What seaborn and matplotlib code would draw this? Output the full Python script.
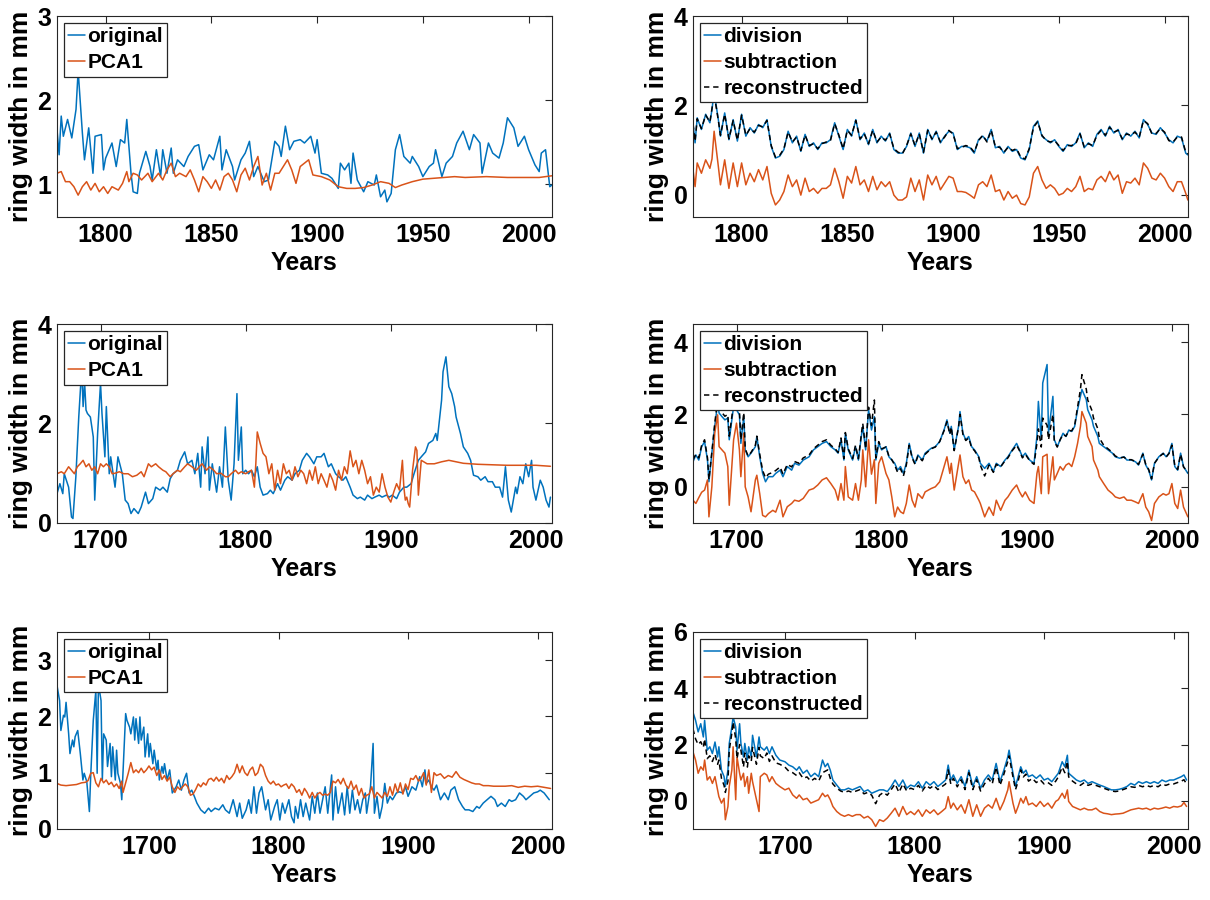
import matplotlib
matplotlib.use("Agg")
import matplotlib.pyplot as plt
import seaborn as sns
import pandas as pd

# ---------------- top row: 1777-2011 ----------------
TL_ORIG_YEARS = [1777, 1778, 1779, 1780, 1782, 1784, 1786, 1787, 1789, 1790,
                 1792, 1794, 1795, 1798, 1799, 1800, 1803, 1805, 1807, 1809,
                 1810, 1812, 1813, 1815, 1816, 1819, 1821, 1822, 1824, 1826,
                 1827, 1829, 1831, 1832, 1834, 1837, 1839, 1842, 1844, 1846,
                 1849, 1851, 1854, 1855, 1857, 1860, 1861, 1864, 1866, 1868,
                 1870, 1872, 1875, 1877, 1880, 1882, 1883, 1885, 1887, 1889,
                 1892, 1894, 1897, 1899, 1900, 1902, 1905, 1907, 1910, 1911,
                 1913, 1915, 1916, 1917, 1919, 1922, 1924, 1927, 1928, 1930,
                 1932, 1933, 1935, 1937, 1939, 1941, 1944, 1945, 1948, 1950,
                 1953, 1955, 1956, 1959, 1961, 1964, 1966, 1969, 1972, 1974,
                 1977, 1978, 1981, 1983, 1986, 1988, 1990, 1993, 1995, 1998,
                 2000, 2003, 2005, 2006, 2008, 2010, 2011]
TL_ORIG = [1.65, 1.35, 1.81, 1.57, 1.77, 1.55, 1.89, 2.35, 1.61, 1.29,
           1.67, 1.13, 1.57, 1.59, 1.17, 1.31, 1.49, 1.21, 1.53, 1.49,
           1.77, 1.13, 0.91, 0.89, 1.13, 1.39, 1.21, 1.05, 1.41, 1.09,
           1.41, 1.13, 1.43, 1.13, 1.29, 1.21, 1.33, 1.45, 1.47, 1.17,
           1.35, 1.29, 1.57, 1.17, 1.41, 1.21, 1.05, 1.29, 1.37, 1.51,
           1.09, 1.21, 1.03, 1.05, 1.51, 1.45, 1.33, 1.69, 1.41, 1.51,
           1.53, 1.49, 1.57, 1.37, 1.53, 1.13, 1.11, 1.07, 0.95, 1.25,
           1.17, 1.25, 1.01, 1.37, 1.05, 0.91, 1.03, 0.99, 1.11, 0.85,
           0.93, 0.79, 0.89, 1.41, 1.59, 1.33, 1.25, 1.33, 1.21, 1.09,
           1.21, 1.25, 1.41, 1.09, 1.25, 1.33, 1.49, 1.63, 1.41, 1.59,
           1.49, 1.13, 1.49, 1.37, 1.31, 1.49, 1.79, 1.67, 1.45, 1.57,
           1.41, 1.23, 1.15, 1.37, 1.41, 0.97, 0.99]

TL_PCA_YEARS = [1777, 1779, 1781, 1783, 1785, 1787, 1789, 1791, 1793, 1795,
                1797, 1799, 1801, 1803, 1806, 1808, 1810, 1811, 1813, 1815,
                1817, 1820, 1822, 1825, 1827, 1829, 1831, 1833, 1835, 1838,
                1840, 1842, 1844, 1846, 1848, 1850, 1852, 1854, 1856, 1858,
                1860, 1862, 1864, 1866, 1868, 1870, 1872, 1874, 1876, 1878,
                1880, 1882, 1884, 1886, 1888, 1890, 1892, 1894, 1896, 1898,
                1902, 1906, 1910, 1914, 1918, 1922, 1926, 1930, 1934, 1937,
                1940, 1945, 1950, 1955, 1960, 1965, 1970, 1980, 1990, 2000,
                2005, 2011]
TL_PCA = [1.13, 1.15, 1.03, 1.03, 0.97, 0.87, 0.97, 1.03, 0.93, 1.01,
          0.91, 0.97, 0.89, 0.97, 0.93, 1.01, 1.15, 1.03, 1.13, 1.11,
          1.05, 1.13, 1.03, 1.13, 1.05, 1.17, 1.25, 1.09, 1.13, 1.09,
          1.17, 1.05, 0.91, 1.09, 1.03, 0.95, 1.05, 0.93, 1.09, 1.13,
          1.05, 0.91, 1.11, 1.19, 1.05, 1.21, 1.33, 0.99, 1.13, 0.93,
          1.13, 1.13, 1.21, 1.29, 1.17, 1.01, 1.21, 1.25, 1.29, 1.11,
          1.09, 1.05, 0.97, 0.95, 0.95, 0.96, 0.99, 1.03, 1.01, 0.96,
          0.99, 1.03, 1.06, 1.07, 1.08, 1.09, 1.08, 1.09, 1.08, 1.08,
          1.08, 1.10]

TR_YEARS = [1777, 1778, 1779, 1781, 1783, 1785, 1786, 1787, 1789, 1790] + \
    list(range(1792, 2011, 2)) + [2011]
TR_DIV = [1.61, 1.16, 1.72, 1.46, 1.80, 1.61, 1.91, 2.30, 1.68, 1.31,
          1.83, 1.23, 1.68, 1.20, 1.80, 1.31, 1.50, 1.38, 1.57, 1.50,
          1.68, 1.08, 0.82, 0.86, 1.01, 1.42, 1.16, 1.31, 0.97, 1.35,
          1.08, 1.16, 1.01, 1.16, 1.16, 1.23, 1.61, 1.31, 1.01, 1.46,
          1.31, 1.68, 1.23, 1.38, 1.12, 1.46, 1.16, 1.31, 1.20, 1.38,
          1.01, 0.93, 0.93, 1.08, 1.38, 1.08, 1.38, 0.93, 1.46, 1.23,
          1.42, 1.16, 1.31, 1.42, 1.38, 1.01, 1.08, 1.08, 1.05, 0.93,
          1.23, 1.31, 1.20, 1.46, 1.05, 1.08, 0.93, 1.08, 0.97, 1.01,
          0.82, 0.78, 1.01, 1.53, 1.65, 1.31, 1.23, 1.16, 1.23, 1.08,
          0.97, 1.12, 1.08, 1.16, 1.38, 1.05, 1.16, 1.08, 1.35, 1.46,
          1.31, 1.53, 1.38, 1.46, 1.23, 1.38, 1.31, 1.42, 1.27, 1.68,
          1.57, 1.38, 1.35, 1.50, 1.38, 1.23, 1.16, 1.31, 1.27, 0.93,
          0.89]
TR_SUB = [0.56, 0.18, 0.71, 0.48, 0.78, 0.59, 0.80, 1.42, 0.63, 0.22,
          0.78, 0.14, 0.71, 0.18, 0.71, 0.22, 0.48, 0.29, 0.56, 0.33,
          0.63, 0.03, -0.23, -0.12, 0.07, 0.44, 0.18, 0.33, -0.01, 0.37,
          0.07, 0.14, 0.03, 0.14, 0.14, 0.22, 0.59, 0.29, -0.08, 0.41,
          0.26, 0.63, 0.22, 0.33, 0.07, 0.41, 0.11, 0.29, 0.18, 0.29,
          -0.01, -0.12, -0.12, -0.05, 0.37, 0.07, 0.33, -0.12, 0.44, 0.22,
          0.41, 0.11, 0.26, 0.41, 0.37, 0.07, 0.07, 0.05, -0.01, -0.08,
          0.22, 0.29, 0.18, 0.44, 0.07, 0.11, -0.12, 0.07, -0.08, -0.01,
          -0.20, -0.23, -0.05, 0.48, 0.63, 0.33, 0.14, 0.22, 0.14, -0.01,
          0.03, 0.14, 0.07, 0.18, 0.41, 0.07, 0.14, 0.11, 0.33, 0.41,
          0.29, 0.52, 0.33, 0.44, 0.03, 0.29, 0.26, 0.37, 0.22, 0.71,
          0.59, 0.37, 0.33, 0.48, 0.37, 0.18, 0.07, 0.29, 0.29, 0.03,
          -0.12]
TR_REC = [1.58, 1.20, 1.70, 1.48, 1.78, 1.63, 1.93, 2.25, 1.66, 1.33,
          1.80, 1.25, 1.66, 1.22, 1.78, 1.33, 1.48, 1.40, 1.55, 1.52,
          1.66, 1.10, 0.84, 0.88, 1.03, 1.40, 1.18, 1.29, 0.99, 1.33,
          1.10, 1.14, 1.03, 1.14, 1.18, 1.21, 1.59, 1.33, 1.03, 1.44,
          1.33, 1.66, 1.25, 1.36, 1.14, 1.44, 1.18, 1.29, 1.22, 1.36,
          1.03, 0.95, 0.91, 1.10, 1.36, 1.10, 1.36, 0.95, 1.44, 1.25,
          1.40, 1.18, 1.29, 1.44, 1.36, 1.03, 1.06, 1.10, 1.07, 0.95,
          1.21, 1.33, 1.18, 1.44, 1.07, 1.06, 0.95, 1.06, 0.99, 1.03,
          0.84, 0.80, 1.03, 1.51, 1.63, 1.33, 1.21, 1.18, 1.21, 1.10,
          0.99, 1.10, 1.10, 1.14, 1.36, 1.07, 1.14, 1.10, 1.33, 1.44,
          1.33, 1.51, 1.40, 1.44, 1.25, 1.36, 1.33, 1.40, 1.29, 1.66,
          1.59, 1.36, 1.37, 1.48, 1.40, 1.21, 1.18, 1.29, 1.29, 0.95,
          0.91]

# ---------------- middle row: 1670-2011 ----------------
ML_ORIG_YEARS = [1670, 1672, 1674, 1675, 1678, 1680, 1681, 1683, 1685, 1686,
                 1687, 1688, 1689, 1690, 1691, 1693, 1695, 1696, 1698, 1700,
                 1701, 1703, 1704, 1706, 1707, 1710, 1712, 1715, 1717, 1719,
                 1721, 1723, 1726, 1728, 1731, 1733, 1736, 1738, 1741, 1743,
                 1746, 1748, 1750, 1753, 1755, 1758, 1760, 1763, 1765, 1767,
                 1769, 1770, 1772, 1774, 1775, 1777, 1780, 1782, 1784, 1786,
                 1788, 1790, 1792, 1794, 1795, 1796, 1797, 1798, 1800, 1802,
                 1804, 1806, 1808, 1810, 1812, 1815, 1817, 1819, 1822, 1824,
                 1827, 1829, 1832, 1834, 1837, 1839, 1842, 1844, 1847, 1849,
                 1852, 1854, 1857, 1859, 1862, 1864, 1867, 1869, 1872, 1874,
                 1877, 1879, 1882, 1884, 1887, 1889, 1892, 1894, 1897, 1899,
                 1901, 1904, 1906, 1909, 1911, 1914, 1916, 1919, 1921, 1924,
                 1926, 1929, 1931, 1932, 1935, 1936, 1938, 1940, 1942, 1944,
                 1945, 1948, 1950, 1953, 1955, 1957, 1960, 1962, 1965, 1967,
                 1970, 1972, 1975, 1977, 1979, 1981, 1983, 1986, 1987, 1989,
                 1991, 1993, 1995, 1997, 1998, 2000, 2003, 2005, 2007, 2009,
                 2010]
ML_ORIG = [0.59, 0.79, 0.59, 0.99, 0.72, 0.12, 0.09, 0.93, 2.13, 2.60,
           3.10, 2.34, 2.84, 2.27, 2.20, 2.13, 1.73, 0.46, 1.80, 2.81,
           2.20, 1.33, 2.34, 0.99, 1.33, 0.72, 1.33, 0.99, 0.46, 0.39,
           0.19, 0.29, 0.19, 0.32, 0.62, 0.39, 0.49, 0.72, 0.66, 0.72,
           0.62, 0.89, 0.99, 1.06, 1.26, 1.43, 1.19, 1.26, 0.99, 1.40,
           0.72, 1.53, 0.99, 1.73, 0.66, 1.19, 0.62, 1.13, 0.72, 1.93,
           0.86, 0.46, 1.19, 2.60, 1.26, 1.60, 1.93, 0.99, 1.06, 0.99,
           1.06, 0.93, 1.13, 0.72, 0.56, 0.59, 0.66, 0.59, 0.79, 0.66,
           0.86, 0.93, 0.86, 0.99, 1.06, 1.26, 1.40, 1.33, 1.19, 1.33,
           1.33, 1.40, 1.13, 1.19, 0.99, 0.93, 0.86, 0.93, 0.72, 0.56,
           0.49, 0.52, 0.46, 0.56, 0.49, 0.52, 0.56, 0.52, 0.56, 0.52,
           0.56, 0.49, 0.62, 0.72, 0.72, 0.79, 0.99, 1.26, 1.33, 1.43,
           1.60, 1.66, 1.80, 1.66, 2.47, 3.04, 3.34, 2.74, 2.60, 2.34,
           2.13, 1.80, 1.53, 1.40, 1.26, 0.96, 0.93, 0.86, 0.93, 0.83,
           0.83, 0.72, 0.72, 0.52, 1.13, 0.46, 0.22, 0.72, 0.59, 0.93,
           0.79, 1.19, 0.93, 1.26, 0.72, 0.46, 0.86, 0.72, 0.46, 0.32,
           0.52]

ML_PCA_YEARS = [1670, 1673, 1675, 1678, 1680, 1682, 1684, 1686, 1688, 1690,
                1692, 1694, 1696, 1698, 1700, 1702, 1704, 1706, 1708, 1710,
                1713, 1716, 1719, 1722, 1725, 1728, 1730, 1733, 1735, 1738,
                1740, 1743, 1745, 1748, 1750, 1753, 1755, 1758, 1760, 1763,
                1766, 1768, 1770, 1773, 1775, 1778, 1780, 1783, 1786, 1788,
                1790, 1793, 1795, 1797, 1800, 1802, 1804, 1806, 1807, 1808,
                1810, 1812, 1814, 1816, 1818, 1820, 1822, 1824, 1826, 1828,
                1830, 1832, 1834, 1836, 1838, 1840, 1842, 1844, 1846, 1848,
                1850, 1852, 1854, 1856, 1858, 1860, 1862, 1864, 1866, 1868,
                1870, 1872, 1874, 1876, 1878, 1880, 1882, 1884, 1886, 1888,
                1890, 1892, 1894, 1896, 1898, 1900, 1902, 1904, 1906, 1908,
                1909, 1910, 1911, 1912, 1913, 1915, 1917, 1918, 1919, 1921,
                1925, 1930, 1935, 1940, 1945, 1950, 1960, 1970, 1980, 1990,
                2000, 2010]
ML_PCA = [0.99, 1.03, 0.99, 1.13, 1.06, 0.99, 1.13, 1.19, 1.26, 1.13,
          1.19, 1.06, 1.13, 0.99, 1.19, 1.13, 1.19, 1.13, 0.99, 1.00,
          1.03, 0.99, 0.99, 0.93, 0.96, 1.03, 0.93, 1.19, 1.13, 1.19,
          1.13, 1.06, 1.03, 0.93, 0.99, 1.06, 1.03, 1.13, 1.19, 1.13,
          1.06, 1.13, 1.19, 1.06, 1.13, 1.06, 0.99, 1.00, 0.93, 0.93,
          0.99, 1.06, 0.99, 1.03, 0.99, 1.03, 1.06, 0.72, 1.19, 1.83,
          1.60, 1.40, 1.33, 0.99, 1.19, 0.66, 1.06, 0.79, 1.19, 0.99,
          1.06, 0.86, 1.13, 0.93, 1.06, 0.99, 0.79, 1.06, 0.86, 1.13,
          0.79, 0.99, 0.86, 0.72, 0.99, 0.86, 0.66, 1.06, 0.86, 1.13,
          0.99, 1.45, 1.13, 1.26, 0.99, 1.26, 1.06, 0.79, 0.93, 0.56,
          0.72, 0.62, 0.99, 0.72, 0.52, 0.42, 0.62, 0.79, 0.66, 1.26,
          0.72, 0.46, 0.52, 0.39, 0.32, 1.06, 1.53, 1.46, 0.56, 1.26,
          1.19, 1.19, 1.23, 1.26, 1.23, 1.20, 1.18, 1.17, 1.16, 1.16,
          1.16, 1.14]

MR_YEARS = [1670, 1672, 1674, 1676, 1678, 1680, 1681, 1683, 1685, 1687,
            1688, 1690, 1692, 1694, 1695, 1698, 1700, 1702, 1703, 1705,
            1706, 1708, 1710, 1713, 1714, 1716, 1718, 1720, 1722, 1725,
            1727, 1730, 1732, 1735, 1738, 1740, 1743, 1746, 1750, 1753,
            1756, 1759, 1762, 1765, 1768, 1770, 1772, 1774, 1775, 1777,
            1780, 1782, 1784, 1786, 1787, 1789, 1791, 1793, 1795, 1796,
            1798, 1800, 1803, 1805, 1807, 1809, 1811, 1813, 1815, 1817,
            1819, 1821, 1823, 1825, 1828, 1830, 1834, 1837, 1840, 1843,
            1845, 1847, 1848, 1850, 1853, 1854, 1856, 1858, 1860, 1862,
            1864, 1867, 1868, 1871, 1874, 1877, 1879, 1882, 1885, 1887,
            1890, 1893, 1895, 1897, 1899, 1902, 1905, 1907, 1908, 1910,
            1911, 1914, 1915, 1918, 1919, 1921, 1923, 1925, 1927, 1929,
            1931, 1933, 1935, 1937, 1938, 1941, 1942, 1945, 1946, 1949,
            1950, 1953, 1956, 1959, 1961, 1964, 1967, 1969, 1972, 1975,
            1977, 1980, 1982, 1984, 1986, 1988, 1991, 1994, 1996, 1998,
            2000, 2002, 2004, 2006, 2008, 2011]
MR_DIV = [0.69, 0.88, 0.74, 1.11, 1.25, 0.74, 0.14, 0.93, 1.67, 2.31,
          2.04, 1.94, 1.85, 1.90, 1.30, 2.22, 2.13, 1.99, 1.20, 1.94,
          1.02, 0.83, 0.93, 1.11, 1.39, 0.83, 0.37, 0.14, 0.28, 0.28,
          0.37, 0.46, 0.28, 0.56, 0.46, 0.65, 0.60, 0.74, 0.83, 1.02,
          1.11, 1.20, 1.25, 1.11, 1.02, 0.93, 1.30, 0.74, 1.48, 1.02,
          0.74, 1.11, 0.74, 1.39, 1.67, 1.02, 2.13, 1.57, 1.94, 0.74,
          1.20, 1.02, 1.11, 0.83, 0.74, 0.65, 0.46, 0.56, 0.37, 0.65,
          1.20, 0.83, 0.65, 0.88, 0.74, 0.93, 1.06, 1.11, 1.25, 1.57,
          1.85, 1.48, 1.67, 1.02, 1.67, 2.08, 1.48, 1.30, 1.39, 1.11,
          1.02, 0.83, 0.65, 0.51, 0.65, 0.42, 0.65, 0.56, 0.74, 0.83,
          1.02, 1.20, 1.02, 0.83, 0.93, 0.74, 0.65, 1.39, 2.36, 1.30,
          2.87, 3.38, 1.48, 2.50, 1.30, 1.11, 1.30, 1.48, 1.39, 1.57,
          1.53, 1.67, 2.13, 2.50, 2.69, 2.41, 2.13, 1.85, 1.67, 1.39,
          1.20, 1.11, 1.02, 0.93, 0.83, 0.79, 0.83, 0.74, 0.74, 0.69,
          0.60, 0.93, 0.60, 0.46, 0.19, 0.65, 0.83, 0.93, 0.83, 0.93,
          1.20, 0.56, 0.46, 0.93, 0.56, 0.37]
MR_SUB = [-0.37, -0.46, -0.30, -0.15, -0.09, 0.19, -0.83, 0.00, 1.48, 1.99,
          1.11, 1.02, 0.93, 0.56, -0.51, 1.30, 1.76, 1.02, 0.28, 1.48,
          0.00, -0.28, -0.69, 0.19, 0.32, -0.19, -0.79, -0.83, -0.74, -0.65,
          -0.70, -0.37, -0.83, -0.55, -0.46, -0.37, -0.40, -0.32, -0.09, -0.05,
          0.05, 0.19, 0.25, 0.09, -0.09, -0.37, 0.09, -0.37, 0.56, -0.28,
          -0.37, 0.09, -0.37, 0.19, 1.02, 0.00, 1.30, 0.35, 0.75, -0.46,
          0.65, 0.83, 0.37, 0.19, -0.28, -0.83, -0.56, -0.69, -0.74, -0.46,
          0.05, -0.37, -0.56, -0.19, -0.32, -0.14, -0.05, 0.00, 0.14, 0.56,
          0.83, 0.37, 0.65, -0.09, 0.65, 0.88, 0.28, 0.09, 0.19, -0.09,
          -0.14, -0.37, -0.46, -0.83, -0.56, -0.79, -0.37, -0.65, -0.37, -0.28,
          -0.09, 0.05, -0.14, -0.28, -0.14, -0.37, -0.46, 0.37, 0.56, -0.19,
          0.83, 0.90, -0.19, 0.83, 0.19, 0.37, 0.56, 0.46, 0.60, 0.65,
          0.56, 0.83, 1.20, 1.67, 2.08, 1.76, 1.39, 1.11, 0.74, 0.46,
          0.28, 0.09, -0.09, -0.19, -0.28, -0.32, -0.28, -0.37, -0.37, -0.42,
          -0.46, -0.19, -0.56, -0.69, -0.93, -0.46, -0.28, -0.19, -0.23, -0.19,
          0.09, -0.46, -0.60, -0.09, -0.56, -0.83]
MR_REC = [0.75, 0.90, 0.80, 1.15, 1.30, 0.80, 0.20, 0.95, 1.75, 2.40,
          2.20, 2.05, 1.95, 2.00, 1.40, 2.30, 2.25, 2.10, 1.30, 2.05,
          1.05, 0.85, 0.95, 1.15, 1.40, 0.90, 0.45, 0.25, 0.35, 0.40,
          0.45, 0.55, 0.35, 0.62, 0.55, 0.70, 0.65, 0.80, 0.88, 1.05,
          1.15, 1.25, 1.30, 1.15, 1.05, 0.95, 1.35, 0.78, 1.50, 1.05,
          0.78, 1.15, 0.78, 1.45, 1.75, 1.05, 2.20, 1.70, 2.40, 0.80,
          1.25, 1.05, 1.10, 0.85, 0.75, 0.60, 0.40, 0.50, 0.30, 0.60,
          1.15, 0.80, 0.62, 0.85, 0.72, 0.90, 1.05, 1.10, 1.25, 1.55,
          1.80, 1.45, 1.65, 1.00, 1.65, 2.00, 1.45, 1.28, 1.35, 1.08,
          1.00, 0.80, 0.60, 0.30, 0.60, 0.40, 0.62, 0.55, 0.72, 0.80,
          1.00, 1.15, 1.00, 0.80, 0.90, 0.72, 0.62, 1.20, 1.60, 1.10,
          1.90, 1.70, 1.30, 2.00, 1.25, 1.10, 1.30, 1.45, 1.40, 1.55,
          1.55, 1.70, 2.20, 2.70, 3.10, 2.70, 2.40, 2.10, 1.90, 1.60,
          1.35, 1.15, 1.05, 0.95, 0.85, 0.80, 0.82, 0.75, 0.75, 0.70,
          0.62, 0.90, 0.62, 0.48, 0.22, 0.65, 0.82, 0.92, 0.82, 0.92,
          1.15, 0.58, 0.48, 0.90, 0.55, 0.40]

# ---------------- bottom row: 1629-2011 ----------------
BL_ORIG_YEARS = [1629, 1631, 1632, 1634, 1635, 1636, 1638, 1639, 1641, 1642,
                 1643, 1645, 1647, 1649, 1650, 1652, 1654, 1655, 1657, 1659,
                 1660, 1661, 1663, 1664, 1665, 1667, 1668, 1670, 1671, 1672,
                 1674, 1675, 1676, 1678, 1679, 1681, 1682, 1683, 1685, 1686,
                 1688, 1689, 1690, 1692, 1693, 1694, 1696, 1697, 1699, 1700,
                 1701, 1703, 1704, 1706, 1707, 1708, 1710, 1711, 1712, 1714,
                 1716, 1718, 1721, 1723, 1725, 1727, 1729, 1731, 1733, 1735,
                 1737, 1740, 1743, 1746, 1748, 1751, 1754, 1757, 1759, 1762,
                 1765, 1768, 1770, 1772, 1775, 1777, 1779, 1781, 1783, 1785,
                 1787, 1790, 1792, 1794, 1797, 1799, 1801, 1803, 1805, 1808,
                 1810, 1812, 1813, 1815, 1817, 1819, 1821, 1824, 1826, 1828,
                 1830, 1832, 1834, 1836, 1838, 1841, 1842, 1844, 1846, 1849,
                 1851, 1853, 1855, 1857, 1859, 1861, 1863, 1865, 1867, 1868,
                 1871, 1873, 1874, 1876, 1878, 1880, 1882, 1884, 1886, 1888,
                 1891, 1893, 1896, 1898, 1900, 1903, 1906, 1909, 1911, 1913,
                 1914, 1916, 1918, 1920, 1922, 1925, 1928, 1931, 1933, 1936,
                 1939, 1942, 1944, 1947, 1950, 1953, 1955, 1958, 1961, 1964,
                 1967, 1969, 1972, 1975, 1978, 1980, 1983, 1986, 1989, 1991,
                 1994, 1997, 2000, 2002, 2005, 2009]
BL_ORIG = [2.55, 2.28, 1.75, 2.02, 1.99, 2.25, 1.69, 1.34, 1.58, 1.46,
           1.64, 1.75, 1.34, 0.87, 0.99, 0.84, 0.31, 0.93, 1.93, 2.46,
           0.99, 2.58, 2.28, 0.87, 1.69, 1.58, 1.11, 1.52, 0.93, 1.46,
           0.87, 1.40, 0.99, 0.81, 0.52, 1.52, 2.05, 1.93, 1.81, 1.69,
           1.99, 1.58, 1.96, 1.52, 1.99, 1.58, 1.81, 1.28, 1.69, 1.28,
           1.52, 1.16, 1.40, 1.05, 1.22, 0.87, 1.11, 0.99, 1.16, 0.87,
           1.05, 0.64, 0.75, 0.87, 0.69, 0.87, 0.99, 0.64, 0.69, 0.58,
           0.46, 0.34, 0.28, 0.37, 0.31, 0.37, 0.34, 0.43, 0.34, 0.28,
           0.52, 0.22, 0.46, 0.19, 0.34, 0.52, 0.28, 0.75, 0.28, 0.64,
           0.75, 0.34, 0.52, 0.16, 0.40, 0.52, 0.16, 0.46, 0.28, 0.52,
           0.22, 0.11, 0.40, 0.19, 0.52, 0.22, 0.46, 0.16, 0.58, 0.28,
           0.64, 0.28, 0.52, 0.75, 0.28, 0.96, 0.16, 0.75, 0.28, 0.64,
           0.25, 0.75, 0.28, 0.69, 0.34, 0.52, 0.28, 0.52, 0.64, 0.28,
           0.75, 1.52, 0.28, 0.58, 0.19, 0.40, 0.81, 0.46, 0.58, 0.52,
           0.64, 0.66, 0.64, 0.75, 0.58, 0.75, 0.69, 0.93, 0.75, 1.05,
           0.81, 0.87, 0.75, 0.69, 0.78, 0.52, 0.64, 0.52, 0.69, 0.75,
           0.52, 0.40, 0.34, 0.34, 0.31, 0.40, 0.37, 0.46, 0.52, 0.58,
           0.52, 0.40, 0.46, 0.40, 0.52, 0.49, 0.52, 0.64, 0.58, 0.52,
           0.58, 0.64, 0.66, 0.69, 0.64, 0.52]

BL_PCA_YEARS = [1629, 1632, 1636, 1640, 1644, 1648, 1651, 1653, 1655, 1657,
                1659, 1661, 1663, 1665, 1667, 1669, 1671, 1673, 1675, 1677,
                1679, 1680, 1682, 1684, 1686, 1688, 1690, 1692, 1694, 1696,
                1698, 1700, 1702, 1704, 1706, 1708, 1710, 1712, 1714, 1716,
                1718, 1720, 1722, 1724, 1726, 1728, 1730, 1732, 1734, 1736,
                1738, 1740, 1742, 1744, 1746, 1748, 1750, 1752, 1754, 1756,
                1758, 1760, 1762, 1764, 1766, 1768, 1770, 1772, 1774, 1776,
                1778, 1780, 1782, 1784, 1786, 1788, 1790, 1792, 1794, 1796,
                1798, 1800, 1802, 1804, 1806, 1808, 1810, 1812, 1814, 1816,
                1818, 1820, 1822, 1824, 1826, 1828, 1830, 1832, 1834, 1836,
                1838, 1840, 1842, 1844, 1846, 1848, 1850, 1852, 1854, 1856,
                1858, 1860, 1862, 1864, 1866, 1868, 1870, 1872, 1874, 1876,
                1878, 1880, 1882, 1884, 1886, 1888, 1890, 1892, 1894, 1896,
                1898, 1900, 1902, 1904, 1906, 1908, 1910, 1912, 1914, 1916,
                1918, 1920, 1922, 1925, 1928, 1931, 1934, 1937, 1940, 1943,
                1946, 1949, 1952, 1955, 1958, 1962, 1966, 1970, 1975, 1980,
                1985, 1990, 1995, 2000, 2005, 2010]
BL_PCA = [0.81, 0.78, 0.77, 0.78, 0.79, 0.82, 0.83, 0.86, 0.99, 1.00,
          0.82, 0.75, 0.90, 0.82, 0.87, 0.79, 0.83, 0.75, 0.80, 0.72,
          0.85, 0.65, 0.82, 0.99, 1.18, 1.00, 1.05, 1.00, 1.08, 1.00,
          1.05, 1.12, 1.05, 1.10, 0.95, 1.05, 0.88, 0.95, 0.85, 0.92,
          0.75, 0.65, 0.75, 0.70, 0.75, 0.80, 0.75, 0.60, 0.62, 0.70,
          0.80, 0.75, 0.82, 0.78, 0.88, 0.90, 0.85, 0.92, 0.85, 0.90,
          0.82, 0.95, 0.88, 0.93, 1.00, 1.15, 1.00, 1.12, 1.00, 0.95,
          1.05, 1.10, 0.95, 1.00, 1.15, 1.10, 0.95, 0.85, 0.80, 0.85,
          0.78, 0.80, 0.75, 0.78, 0.80, 0.72, 0.80, 0.75, 0.65, 0.70,
          0.60, 0.72, 0.65, 0.55, 0.65, 0.55, 0.62, 0.65, 0.60, 0.62,
          0.60, 0.65, 0.85, 0.82, 0.88, 0.80, 0.90, 0.78, 0.72, 0.85,
          0.70, 0.78, 0.60, 0.72, 0.55, 0.60, 0.62, 0.75, 0.55, 0.65,
          0.60, 0.55, 0.65, 0.58, 0.75, 0.60, 0.80, 0.65, 0.82, 0.62,
          0.80, 0.70, 0.90, 0.88, 0.95, 0.85, 0.90, 1.00, 0.78, 1.05,
          0.65, 1.00, 0.95, 0.98, 0.90, 0.95, 0.92, 1.02, 0.92, 0.88,
          0.85, 0.82, 0.80, 0.80, 0.77, 0.77, 0.76, 0.76, 0.76, 0.77,
          0.74, 0.76, 0.75, 0.76, 0.74, 0.72]

BR_YEARS = [1629, 1631, 1633, 1635, 1637, 1638, 1640, 1642, 1644, 1646,
            1648, 1649, 1651, 1653, 1654, 1656, 1657, 1659, 1660, 1662,
            1663, 1665, 1666, 1668, 1669, 1671, 1672, 1674, 1675, 1678,
            1680, 1681, 1684, 1686, 1688, 1690, 1693, 1696, 1700, 1703,
            1706, 1709, 1711, 1714, 1717, 1720, 1723, 1726, 1729, 1731,
            1733, 1735, 1737, 1740, 1743, 1746, 1749, 1752, 1755, 1758,
            1761, 1764, 1767, 1770, 1773, 1776, 1779, 1782, 1785, 1788,
            1791, 1794, 1797, 1800, 1803, 1806, 1809, 1812, 1815, 1818,
            1821, 1824, 1826, 1828, 1830, 1833, 1836, 1839, 1842, 1845,
            1848, 1851, 1854, 1857, 1860, 1863, 1866, 1869, 1872, 1873,
            1876, 1878, 1880, 1882, 1884, 1886, 1888, 1891, 1894, 1897,
            1900, 1903, 1906, 1909, 1911, 1914, 1916, 1918, 1919, 1922,
            1925, 1928, 1931, 1934, 1937, 1940, 1943, 1946, 1949, 1952,
            1955, 1958, 1961, 1964, 1967, 1970, 1973, 1976, 1979, 1982,
            1985, 1988, 1991, 1994, 1997, 2000, 2003, 2006, 2008, 2010]
BR_DIV = [3.15, 2.86, 2.45, 2.74, 2.27, 2.86, 1.80, 1.92, 1.68, 2.09,
          1.56, 1.92, 1.09, 0.86, 0.51, 1.09, 2.04, 2.62, 2.98, 2.62,
          1.80, 2.74, 2.04, 1.56, 2.04, 1.45, 1.92, 1.56, 2.33, 1.56,
          2.27, 1.92, 1.80, 1.92, 1.68, 1.92, 1.62, 1.45, 1.39, 1.27,
          1.21, 1.09, 1.21, 0.98, 1.09, 0.86, 0.98, 0.86, 1.45, 1.21,
          1.33, 1.09, 0.74, 0.56, 0.39, 0.39, 0.45, 0.39, 0.45, 0.51,
          0.33, 0.39, 0.27, 0.33, 0.39, 0.39, 0.33, 0.51, 0.74, 0.51,
          0.74, 0.45, 0.56, 0.51, 0.68, 0.45, 0.68, 0.56, 0.68, 0.51,
          0.62, 0.74, 1.27, 0.74, 0.92, 0.62, 0.86, 0.51, 1.09, 0.51,
          0.86, 0.45, 0.74, 0.92, 0.74, 1.33, 0.68, 1.09, 1.56, 1.80,
          0.98, 0.51, 0.86, 1.21, 0.98, 1.09, 0.86, 0.92, 0.80, 0.92,
          0.74, 0.80, 0.68, 0.86, 0.98, 1.39, 1.21, 1.62, 0.98, 0.86,
          0.74, 0.68, 0.74, 0.62, 0.68, 0.62, 0.56, 0.51, 0.45, 0.39,
          0.39, 0.41, 0.45, 0.51, 0.62, 0.56, 0.68, 0.62, 0.68, 0.62,
          0.68, 0.62, 0.74, 0.68, 0.74, 0.74, 0.80, 0.86, 0.92, 0.74]
BR_SUB = [1.74, 1.45, 0.98, 1.21, 1.09, 1.45, 0.74, 0.86, 0.62, 0.86,
          0.39, 0.15, -0.08, 0.09, -0.67, -0.20, 0.51, 1.09, 1.92, 0.04,
          1.56, 0.98, 0.74, 0.98, 0.51, 0.86, 0.27, 0.98, 0.68, 0.04,
          -0.38, 0.86, 0.98, 0.92, 0.68, 0.86, 0.62, 0.51, 0.39, 0.45,
          0.21, 0.09, 0.21, 0.04, 0.09, -0.08, -0.02, 0.04, 0.27, 0.15,
          0.21, 0.04, -0.20, -0.38, -0.49, -0.55, -0.49, -0.55, -0.49, -0.49,
          -0.61, -0.55, -0.67, -0.91, -0.67, -0.73, -0.61, -0.44, -0.26, -0.55,
          -0.20, -0.49, -0.38, -0.49, -0.32, -0.55, -0.32, -0.44, -0.32, -0.49,
          -0.38, -0.26, 0.15, -0.26, -0.08, -0.32, -0.14, -0.44, 0.04, -0.55,
          -0.14, -0.55, -0.26, -0.14, -0.26, 0.09, -0.32, -0.02, 0.39, 0.68,
          -0.08, -0.44, -0.20, 0.09, -0.08, 0.15, -0.14, -0.08, -0.20, -0.02,
          -0.20, -0.08, -0.26, -0.02, 0.04, 0.27, 0.09, 0.39, -0.02, -0.20,
          -0.26, -0.32, -0.26, -0.32, -0.32, -0.26, -0.38, -0.44, -0.46, -0.49,
          -0.47, -0.46, -0.44, -0.38, -0.32, -0.29, -0.26, -0.29, -0.26, -0.32,
          -0.26, -0.29, -0.26, -0.22, -0.26, -0.20, -0.22, -0.18, -0.06, -0.20]
BR_REC = [2.56, 2.20, 2.00, 2.10, 1.90, 2.20, 1.50, 1.60, 1.40, 1.65,
          1.30, 1.45, 0.80, 0.55, 0.30, 0.70, 1.80, 2.40, 2.80, 2.20,
          1.50, 2.00, 1.80, 1.20, 1.70, 1.20, 1.60, 1.40, 1.90, 1.30,
          1.90, 1.60, 1.50, 1.70, 1.40, 1.60, 1.35, 1.30, 1.20, 1.05,
          1.00, 0.90, 1.00, 0.80, 0.85, 0.70, 0.80, 0.70, 1.00, 1.05,
          1.10, 0.80, 0.60, 0.45, 0.35, 0.30, 0.35, 0.30, 0.35, 0.40,
          0.25, 0.30, 0.20, -0.10, 0.20, 0.30, 0.20, 0.40, 0.60, 0.30,
          0.60, 0.35, 0.45, 0.40, 0.55, 0.35, 0.55, 0.45, 0.55, 0.40,
          0.50, 0.60, 1.10, 0.60, 0.80, 0.50, 0.75, 0.40, 1.00, 0.40,
          0.75, 0.35, 0.60, 0.80, 0.60, 1.20, 0.55, 0.95, 1.40, 1.60,
          0.85, 0.40, 0.70, 1.10, 0.85, 0.95, 0.70, 0.80, 0.65, 0.75,
          0.60, 0.65, 0.55, 0.70, 0.85, 1.20, 1.00, 1.40, 0.85, 0.70,
          0.60, 0.55, 0.65, 0.55, 0.60, 0.55, 0.50, 0.45, 0.40, 0.35,
          0.33, 0.35, 0.40, 0.45, 0.50, 0.48, 0.55, 0.50, 0.55, 0.50,
          0.55, 0.50, 0.60, 0.55, 0.60, 0.60, 0.65, 0.70, 0.75, 0.60]

BLUE = "#0072BD"
ORANGE = "#D95319"
DARK = "#262626"

sns.set_style("white")
plt.rcParams["font.family"] = ["Liberation Sans", "DejaVu Sans"]
plt.rcParams["font.weight"] = "bold"
plt.rcParams["axes.labelweight"] = "bold"


def draw(ax, series, xlim, xticks, ylim, yticks):
    for years, vals, label, color, ls in series:
        df = pd.DataFrame({"Years": years, "value": vals})
        sns.lineplot(data=df, x="Years", y="value", ax=ax, color=color,
                     linewidth=1.1, linestyle=ls, label=label)
    ax.set_xlim(*xlim)
    ax.set_ylim(*ylim)
    ax.set_xticks(xticks)
    ax.set_yticks(yticks)
    ax.set_xlabel("Years", fontsize=18, labelpad=3, color="black")
    ax.set_ylabel("ring width in mm", fontsize=19, labelpad=3, color="black")
    ax.tick_params(direction="in", length=5, width=0.8, top=True, right=True,
                   labelsize=18, colors=DARK, labelcolor="black", pad=4)
    for sp in ax.spines.values():
        sp.set_color(DARK)
        sp.set_linewidth(0.8)
    leg = ax.legend(loc="upper left", frameon=True, fancybox=False,
                    edgecolor=DARK, framealpha=1, handlelength=0.8,
                    handletextpad=0.1, borderpad=0.2, labelspacing=0.33,
                    borderaxespad=0.35, prop={"weight": "bold", "size": 15})
    leg.get_frame().set_linewidth(0.9)
    for t in leg.get_texts():
        t.set_color("black")


fig = plt.figure(figsize=(12.1, 9), dpi=100)
left_x, right_x, w = 0.0471, 0.5727, 0.409
rows = [(0.7589, 0.2233), (0.4189, 0.2211), (0.0789, 0.2189)]

dash = (0, (3.5, 2.5))

ax = fig.add_axes([left_x, rows[0][0], w, rows[0][1]])
draw(ax, [(TL_ORIG_YEARS, TL_ORIG, "original", BLUE, "-"),
          (TL_PCA_YEARS, TL_PCA, "PCA1", ORANGE, "-")],
     (1777, 2011), [1800, 1850, 1900, 1950, 2000], (0.61, 3.0), [1, 2, 3])

ax = fig.add_axes([right_x, rows[0][0], w, rows[0][1]])
draw(ax, [(TR_YEARS, TR_DIV, "division", BLUE, "-"),
          (TR_YEARS, TR_SUB, "subtraction", ORANGE, "-"),
          (TR_YEARS, TR_REC, "reconstructed", "black", dash)],
     (1777, 2011), [1800, 1850, 1900, 1950, 2000], (-0.5, 4), [0, 2, 4])

ax = fig.add_axes([left_x, rows[1][0], w, rows[1][1]])
draw(ax, [(ML_ORIG_YEARS, ML_ORIG, "original", BLUE, "-"),
          (ML_PCA_YEARS, ML_PCA, "PCA1", ORANGE, "-")],
     (1670, 2011), [1700, 1800, 1900, 2000], (0, 4), [0, 2, 4])

ax = fig.add_axes([right_x, rows[1][0], w, rows[1][1]])
draw(ax, [(MR_YEARS, MR_DIV, "division", BLUE, "-"),
          (MR_YEARS, MR_SUB, "subtraction", ORANGE, "-"),
          (MR_YEARS, MR_REC, "reconstructed", "black", dash)],
     (1670, 2011), [1700, 1800, 1900, 2000], (-1, 4.5), [0, 2, 4])

ax = fig.add_axes([left_x, rows[2][0], w, rows[2][1]])
draw(ax, [(BL_ORIG_YEARS, BL_ORIG, "original", BLUE, "-"),
          (BL_PCA_YEARS, BL_PCA, "PCA1", ORANGE, "-")],
     (1629, 2011), [1700, 1800, 1900, 2000], (0, 3.5), [0, 1, 2, 3])

ax = fig.add_axes([right_x, rows[2][0], w, rows[2][1]])
draw(ax, [(BR_YEARS, BR_DIV, "division", BLUE, "-"),
          (BR_YEARS, BR_SUB, "subtraction", ORANGE, "-"),
          (BR_YEARS, BR_REC, "reconstructed", "black", dash)],
     (1629, 2011), [1700, 1800, 1900, 2000], (-1, 6), [0, 2, 4, 6])

fig.savefig("out.png", dpi=100)
